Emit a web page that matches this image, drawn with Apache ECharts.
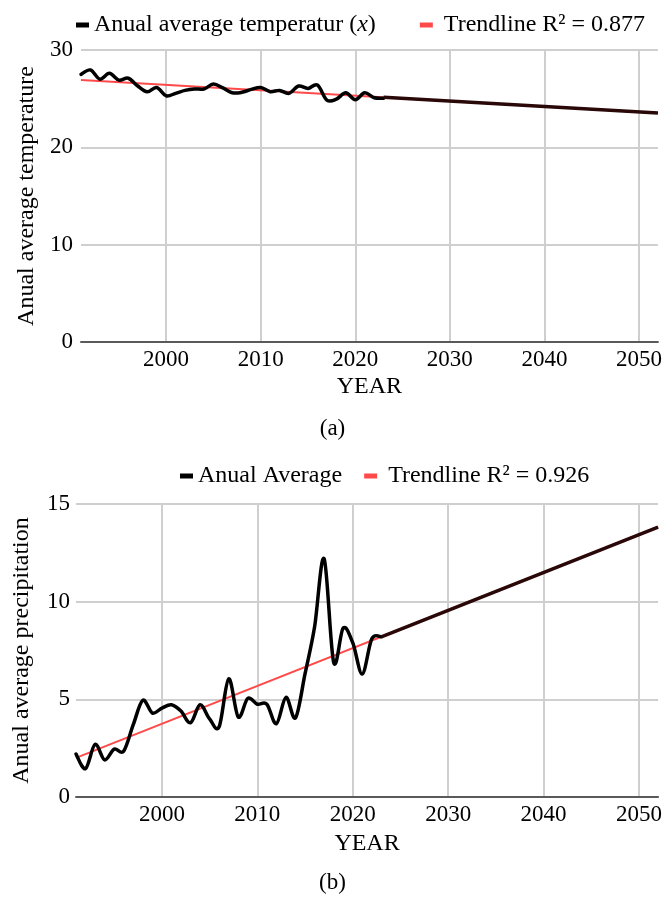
<!DOCTYPE html>
<html>
<head>
<meta charset="utf-8">
<script src="https://cdn.jsdelivr.net/npm/echarts@6/dist/echarts.min.js"></script>
<style>
  html, body { margin: 0; padding: 0; background: #ffffff; }
  #chart { width: 665px; height: 898px; }
</style>
</head>
<body>
<div id="chart"></div>
<script>
// Observed years
const years = [1991, 1992, 1993, 1994, 1995, 1996, 1997, 1998, 1999, 2000,
               2001, 2002, 2003, 2004, 2005, 2006, 2007, 2008, 2009, 2010,
               2011, 2012, 2013, 2014, 2015, 2016, 2017, 2018, 2019, 2020,
               2021, 2022, 2023];

// (a) annual average temperature
const temperature = [27.5, 27.95, 27.0, 27.6, 26.9, 27.1, 26.3, 25.7, 26.15, 25.3,
                     25.55, 25.85, 26.0, 26.0, 26.5, 26.1, 25.6, 25.65, 25.95, 26.15,
                     25.72, 25.85, 25.55, 26.3, 26.05, 26.4, 24.85, 24.95, 25.6, 24.9,
                     25.6, 25.1, 25.05];

// (b) annual average precipitation
const precipitation = [2.2, 1.45, 2.7, 1.9, 2.45, 2.35, 3.7, 4.95, 4.3, 4.55,
                       4.72, 4.4, 3.8, 4.72, 4.0, 3.6, 6.05, 4.1, 5.05, 4.75,
                       4.75, 3.75, 5.1, 4.05, 6.3, 8.7, 12.2, 6.9, 8.65, 7.9,
                       6.3, 8.1, 8.2];

// Linear trendlines (end points) and their forward projections
const tempTrendYears = [1991, 2052];
const tempTrend = [26.93, 23.53];
const tempProjectionYears = [2023, 2052];
const tempProjection = [25.15, 23.53];

const precipTrendYears = [1991, 2052];
const precipTrend = [2.0, 13.82];
const precipProjectionYears = [2023, 2052];
const precipProjection = [8.2, 13.82];

// Axis ticks
const yearTicks = [2000, 2010, 2020, 2030, 2040, 2050];
const yearMin = 1991;
const yearMax = 2052;

const FONT = 'Liberation Serif';
const GRID_COLOR = '#cfcfcf';
const AXIS_COLOR = '#5a5a5a';
const RED = '#ff4a4a';
const DARK = '#2a0808';

const pairs = (xs, ys) => xs.map((x, i) => [x, ys[i]]);

// Cubic Bezier path through the points (Catmull-Rom tangents), in pixel space
function smoothPath(xs, ys, api) {
  const pts = xs.map((x, i) => api.coord([x, ys[i]]));
  let d = 'M' + pts[0][0] + ' ' + pts[0][1];
  for (let i = 0; i < pts.length - 1; i++) {
    const p0 = pts[Math.max(i - 1, 0)];
    const p1 = pts[i];
    const p2 = pts[i + 1];
    const p3 = pts[Math.min(i + 2, pts.length - 1)];
    const c1x = p1[0] + (p2[0] - p0[0]) / 6, c1y = p1[1] + (p2[1] - p0[1]) / 6;
    const c2x = p2[0] - (p3[0] - p1[0]) / 6, c2y = p2[1] - (p3[1] - p1[1]) / 6;
    d += ' C' + c1x + ' ' + c1y + ' ' + c2x + ' ' + c2y + ' ' + p2[0] + ' ' + p2[1];
  }
  return d;
}

function smoothSeries(name, axisIndex, xs, ys) {
  return {
    name, type: 'custom', xAxisIndex: axisIndex, yAxisIndex: axisIndex,
    data: pairs(xs, ys), encode: { x: 0, y: 1 }, z: 3,
    itemStyle: { color: '#000' },
    renderItem: (params, api) => params.dataIndex !== 0 ? null : {
      type: 'path',
      shape: { pathData: smoothPath(xs, ys, api) },
      style: { fill: 'none', stroke: '#000', lineWidth: 3.5, lineJoin: 'round', lineCap: 'round' }
    }
  };
}

function xAxisOf(gridIndex, nameGap) {
  return {
    type: 'value', gridIndex, min: yearMin, max: yearMax,
    name: 'YEAR', nameLocation: 'middle', nameGap,
    nameTextStyle: { fontFamily: FONT, fontSize: 24, color: '#000' },
    axisLine: { show: true, lineStyle: { color: AXIS_COLOR, width: 2 } },
    axisTick: { show: false, customValues: yearTicks },
    axisLabel: { customValues: yearTicks, formatter: (v) => String(v),
                 fontFamily: FONT, fontSize: 23, color: '#000', margin: 6 },
    splitLine: { show: true, lineStyle: { color: GRID_COLOR, width: 2 } }
  };
}

function yAxisOf(gridIndex, max, interval, name, gap, margin) {
  return {
    type: 'value', gridIndex, min: 0, max, interval,
    name, nameLocation: 'middle', nameGap: gap,
    nameTextStyle: { fontFamily: FONT, fontSize: 24, color: '#000' },
    axisLine: { show: false },
    axisTick: { show: false },
    axisLabel: { fontFamily: FONT, fontSize: 23, color: '#000', margin },
    splitLine: { show: true, lineStyle: { color: GRID_COLOR, width: 2 } }
  };
}

const legendText = { fontFamily: FONT, fontSize: 24, color: '#000' };

const chart = echarts.init(document.getElementById('chart'), null, { renderer: 'canvas' });

chart.setOption({
  animation: false,
  backgroundColor: '#ffffff',
  title: [
    { text: '(a)', left: 'center', top: 412, textStyle: { fontFamily: FONT, fontSize: 23, fontWeight: 'normal', color: '#000' } },
    { text: '(b)', left: 'center', top: 866, textStyle: { fontFamily: FONT, fontSize: 23, fontWeight: 'normal', color: '#000' } }
  ],
  legend: [
    {
      left: 71, top: 8, itemGap: 44, itemWidth: 13, itemHeight: 5, icon: 'rect',
      textStyle: Object.assign({}, legendText, {
        rich: {
          n: legendText,
          i: Object.assign({}, legendText, { fontStyle: 'italic' })
        }
      }),
      formatter: (name) => name === 'Anual average temperatur (x)'
        ? '{n|Anual average temperatur (}{i|x}{n|)}'
        : name,
      data: [
        { name: 'Anual average temperatur (x)' },
        { name: 'Trendline R\u00b2 = 0.877', textStyle: { padding: [0, 0, 0, 6] } }
      ]
    },
    {
      left: 175, top: 459, itemGap: 22, itemWidth: 13, itemHeight: 5, icon: 'rect',
      textStyle: legendText,
      data: [
        { name: 'Anual Average' },
        { name: 'Trendline R\u00b2 = 0.926', textStyle: { padding: [0, 0, 0, 6] } }
      ]
    }
  ],
  grid: [
    { left: 81, top: 50, width: 582, height: 292 },
    { left: 76, top: 504, width: 583, height: 293 }
  ],
  xAxis: [xAxisOf(0, 33), xAxisOf(1, 35)],
  yAxis: [
    yAxisOf(0, 30, 10, 'Anual average temperature', 42, 8),
    yAxisOf(1, 15, 5, 'Anual average precipitation', 42, 6)
  ],
  series: [
    // (a)
    {
      name: 'Trendline R\u00b2 = 0.877', type: 'line', xAxisIndex: 0, yAxisIndex: 0,
      data: pairs(tempTrendYears, tempTrend), symbol: 'none', z: 2,
      color: RED, lineStyle: { color: RED, width: 2 }
    },
    smoothSeries('Anual average temperatur (x)', 0, years, temperature),
    {
      name: 'projection-a', type: 'line', xAxisIndex: 0, yAxisIndex: 0,
      data: pairs(tempProjectionYears, tempProjection), symbol: 'none', z: 4,
      color: DARK, lineStyle: { color: DARK, width: 3.5 }
    },
    // (b)
    {
      name: 'Trendline R\u00b2 = 0.926', type: 'line', xAxisIndex: 1, yAxisIndex: 1,
      data: pairs(precipTrendYears, precipTrend), symbol: 'none', z: 2,
      color: RED, lineStyle: { color: RED, width: 2 }
    },
    smoothSeries('Anual Average', 1, years, precipitation),
    {
      name: 'projection-b', type: 'line', xAxisIndex: 1, yAxisIndex: 1,
      data: pairs(precipProjectionYears, precipProjection), symbol: 'none', z: 4,
      color: DARK, lineStyle: { color: DARK, width: 3.5 }
    }
  ]
});
</script>
</body>
</html>
